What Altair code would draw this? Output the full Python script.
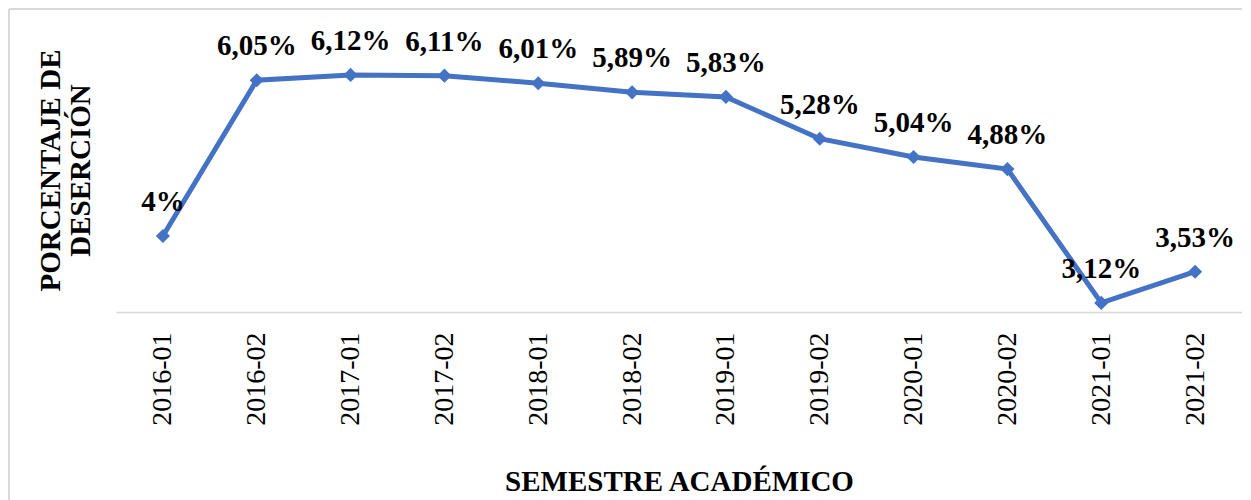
import altair as alt
import pandas as pd

semestres = ["2016-01", "2016-02", "2017-01", "2017-02", "2018-01", "2018-02",
             "2019-01", "2019-02", "2020-01", "2020-02", "2021-01", "2021-02"]
valores = [4.00, 6.05, 6.12, 6.11, 6.01, 5.89, 5.83, 5.28, 5.04, 4.88, 3.12, 3.53]
etiquetas = ["4%", "6,05%", "6,12%", "6,11%", "6,01%", "5,89%", "5,83%",
             "5,28%", "5,04%", "4,88%", "3,12%", "3,53%"]

df = pd.DataFrame({"sem": semestres, "val": valores, "lab": etiquetas})

FONT = "'Liberation Serif', 'Times New Roman', 'DejaVu Serif', serif"
BLUE = "#4472C4"

x = alt.X("sem:N", sort=semestres,
          scale=alt.Scale(paddingOuter=0.5, paddingInner=0),
          axis=alt.Axis(title="SEMESTRE ACADÉMICO", labelAngle=-90,
                        labelAlign="right", labelBaseline="middle",
                        labelFont=FONT, labelFontSize=28, labelColor="black",
                        labelPadding=20, ticks=False, domainColor="#d9d9d9",
                        domainWidth=1.5, titleFont=FONT, titleFontSize=29,
                        titleFontWeight="bold", titleColor="black",
                        titlePadding=42))
y = alt.Y("val:Q", scale=alt.Scale(domain=[3, 7], nice=False, zero=False),
          axis=alt.Axis(title=["PORCENTAJE DE", "DESERCIÓN"], labels=False,
                        ticks=False, domain=False, grid=False,
                        titleFont=FONT, titleFontSize=29, titleFontWeight="bold",
                        titleColor="black", titleAngle=-90,
                        titleX=-66, titleY=162, titleAlign="center",
                        titleBaseline="middle", titleLineHeight=30))

base = alt.Chart(df)
line = base.mark_line(color=BLUE, strokeWidth=5).encode(x=x, y=y)
pts = base.mark_point(shape="diamond", filled=True, color=BLUE, size=200,
                      opacity=1).encode(x=x, y=y)
txt = base.mark_text(font=FONT, fontSize=29, fontWeight="bold", color="black",
                     dy=-34, baseline="middle").encode(x=x, y=y, text="lab:N")

frame_top = alt.Chart(df).mark_rule(color="#d9d9d9", strokeWidth=2).encode(
    x=alt.value(-107), x2=alt.value(1140), y=alt.value(1))
frame_left = alt.Chart(df).mark_rule(color="#d9d9d9", strokeWidth=2).encode(
    x=alt.value(-107), y=alt.value(1), y2=alt.value(500))

chart = alt.layer(frame_top, frame_left, line, pts, txt).properties(
    width=1126, height=304,
    padding={"left": 108, "top": 0, "right": 0, "bottom": 192},
    autosize=alt.AutoSizeParams(type="none"),
).configure_view(stroke=None)

chart.save("out.html", embed_options={"renderer": "svg", "actions": False})
